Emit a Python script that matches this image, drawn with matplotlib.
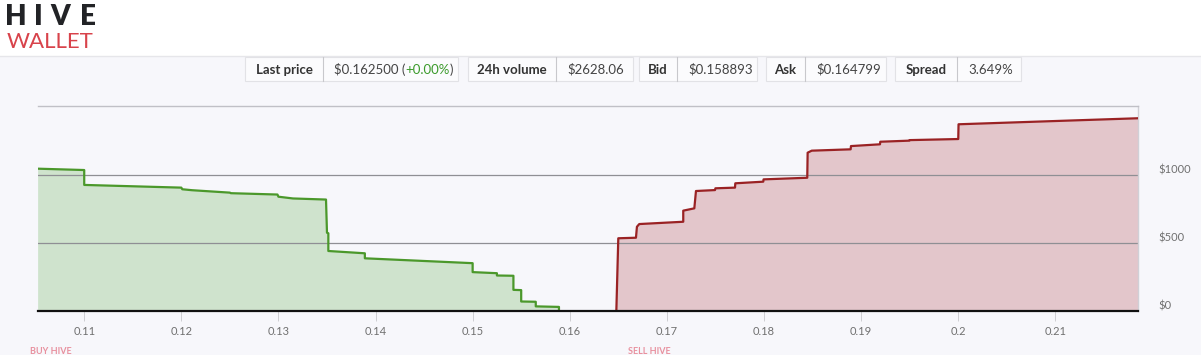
import matplotlib
matplotlib.use("Agg")
import matplotlib.pyplot as plt
import matplotlib.transforms as mtransforms
from matplotlib.patches import Rectangle

# ---------------- data ----------------
bid_price = [0.1052, 0.1100, 0.1100, 0.1200, 0.1201, 0.1211, 0.1250, 0.1251, 0.1299, 0.1300,
             0.1315, 0.1349, 0.1350, 0.13514, 0.13514, 0.1389, 0.1389, 0.1500, 0.1500, 0.1525,
             0.1525, 0.1542, 0.1542, 0.1550, 0.1550, 0.1565, 0.1565, 0.15889, 0.15889]
bid_depth = [1049, 1039, 929, 909, 897, 890, 872, 868, 858, 842,
             829, 821, 576, 572, 441, 424, 387, 351, 285, 277,
             260, 258, 154, 152, 68, 66, 32, 28, 0]

ask_price = [0.16480, 0.16500, 0.16682, 0.16692, 0.16716, 0.17169, 0.17169, 0.17283, 0.17300, 0.17496,
             0.17500, 0.17702, 0.17705, 0.17993, 0.17996, 0.18446, 0.18450, 0.18492, 0.18893, 0.18896,
             0.19195, 0.19198, 0.19497, 0.19500, 0.20001, 0.20004, 0.21000, 0.2200]
ask_depth = [0, 535, 539, 620, 640, 657, 739, 756, 884, 891,
             904, 909, 941, 953, 970, 982, 1167, 1182, 1192, 1216,
             1229, 1248, 1256, 1260, 1268, 1377, 1401, 1425]

x_ticks = [0.11, 0.12, 0.13, 0.14, 0.15, 0.16, 0.17, 0.18, 0.19, 0.20, 0.21]
x_tick_labels = ["0.11", "0.12", "0.13", "0.14", "0.15", "0.16", "0.17", "0.18", "0.19", "0.2", "0.21"]
y_ticks = [0, 500, 1000]
y_tick_labels = ["$0", "$500", "$1000"]

stats_labels = ["Last price", "24h volume", "Bid", "Ask", "Spread"]
stats_values = ["$0.162500", "$2628.06", "$0.158893", "$0.164799", "3.649%"]
last_change = "+0.00%"

# ---------------- style ----------------
BG = "#f7f7fb"
GREEN_LINE = "#4b982b"
GREEN_FILL = "#cfe3cd"
RED_LINE = "#9a2224"
RED_FILL = "#e3c6cb"
FONT = "Lato"

W, H = 1201, 355
fig = plt.figure(figsize=(W / 100, H / 100), dpi=100, facecolor=BG)

# overlay axes in pixel coordinates for page decorations
deco = fig.add_axes([0, 0, 1, 1])
deco.set_xlim(0, W)
deco.set_ylim(H, 0)
deco.axis("off")
deco.set_zorder(0)

# header band
deco.add_patch(Rectangle((0, 0), W, 56, facecolor="white", edgecolor="none"))
deco.plot([0, W], [56, 56], color="#e6e6ea", lw=1)
for ch, x in zip("HIVE", [5, 34, 50, 80]):
    deco.text(x, 25, ch, fontsize=20, fontweight="heavy", color="#222326",
              family=FONT, ha="left", va="baseline")
deco.text(7, 48, "WALLET", fontsize=16, fontweight="normal", color="#d8434b",
          family=FONT, ha="left", va="baseline")

# stats boxes: (left, separator, right)
boxes = [(245, 323, 458), (468, 556, 633), (639, 677, 757), (766, 805, 886), (895, 957, 1021)]
ytop, ybot = 57, 81
ymid = (ytop + ybot) / 2 + 0.5
for (l, s, r), lab, val in zip(boxes, stats_labels, stats_values):
    deco.add_patch(Rectangle((l, ytop), r - l, ybot - ytop, facecolor="#fbfbfd",
                             edgecolor="#e2e2e6", lw=0.8))
    deco.plot([s, s], [ytop, ybot], color="#c8c8cc", lw=0.8)
    deco.text((l + s) / 2, ymid, lab, fontsize=9.5, fontweight="bold", color="#333333",
              family=FONT, ha="center", va="center")
    if lab == "Last price":
        t1 = deco.text(s + 11, ymid, val + " (", fontsize=9.5, color="#444444",
                       family=FONT, ha="left", va="center")
        t2 = deco.annotate(last_change, xy=(1, 0), xycoords=t1, va="bottom", ha="left",
                           fontsize=9.5, color="#3a9a2a", family=FONT)
        deco.annotate(")", xy=(1, 0), xycoords=t2, va="bottom", ha="left",
                      fontsize=9.5, color="#444444", family=FONT)
    else:
        deco.text(s + 11, ymid, val, fontsize=9.5, color="#444444",
                  family=FONT, ha="left", va="center")

# bottom headings (mostly below the visible area in the reference)
deco.text(30, 354, "BUY HIVE", fontsize=6.5, color="#e8909e", family=FONT,
          fontweight="bold", ha="left", va="baseline")
deco.text(628, 354, "SELL HIVE", fontsize=6.5, color="#e8909e", family=FONT,
          fontweight="bold", ha="left", va="baseline")

# ---------------- chart ----------------
left, right = 38 / W, 1137.7 / W
bottom, top = 1 - 310.7 / H, 1 - 106 / H
ax = fig.add_axes([left, bottom, right - left, top - bottom])
ax.set_zorder(1)
ax.set_facecolor(BG)

ax.fill_between(bid_price, bid_depth, 0, color=GREEN_FILL, lw=0, zorder=1)
ax.plot(bid_price, bid_depth, color=GREEN_LINE, lw=1.6, zorder=3)
ax.fill_between(ask_price, ask_depth, 0, color=RED_FILL, lw=0, zorder=1)
ax.plot(ask_price, ask_depth, color=RED_LINE, lw=1.6, zorder=3)

ax.set_xlim(0.10524, 0.21849)
ax.set_ylim(0, 1512)

for v in y_ticks[1:]:
    ax.axhline(v, color="#8f8f94", lw=0.9, zorder=2)

ax.set_xticks(x_ticks)
ax.set_xticklabels(x_tick_labels, family=FONT, fontsize=8, color="#707070")
ax.tick_params(axis="x", direction="out", length=7, width=0.6, color="#c8c8cc", pad=4)

ax.yaxis.tick_right()
ax.set_yticks(y_ticks)
ax.set_yticklabels(y_tick_labels, family=FONT, fontsize=8, color="#707070")
ax.tick_params(axis="y", length=0, pad=15)
offset = mtransforms.ScaledTranslation(0, 6 / 100, fig.dpi_scale_trans)
for lab in ax.get_yticklabels():
    lab.set_horizontalalignment("left")
    lab.set_transform(lab.get_transform() + offset)

ax.spines["left"].set_visible(False)
ax.spines["top"].set_color("#c0c0c6")
ax.spines["top"].set_linewidth(1.0)
ax.spines["right"].set_color("#d0d0d6")
ax.spines["right"].set_linewidth(1.0)
ax.spines["bottom"].set_color("#111111")
ax.spines["bottom"].set_linewidth(1.6)
ax.spines["bottom"].set_zorder(5)

fig.savefig("out.png", dpi=100, facecolor=BG)
